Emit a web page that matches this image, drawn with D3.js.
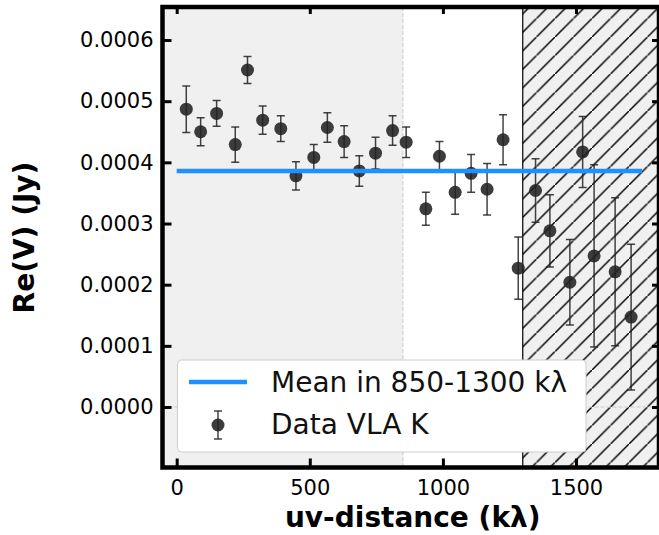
<!DOCTYPE html>
<html>
<head>
<meta charset="utf-8">
<script src="https://cdn.jsdelivr.net/npm/d3@7"></script>
<style>
  body { margin: 0; background: #fff; }
  svg { display: block; font-family: "DejaVu Sans", sans-serif; }
</style>
</head>
<body>
<div id="chart"></div>
<script>
// binned visibilities
const UV_DIST = [36, 90, 150, 220, 266, 323, 391, 448, 515, 566, 629, 686, 747, 811,
                 862, 936, 987, 1046, 1106, 1166, 1226, 1283, 1348, 1402, 1477, 1525, 1568, 1647, 1707];
const RE_V = [0.000487, 0.000450, 0.000480, 0.000429, 0.000551, 0.000469, 0.000455, 0.000378,
              0.000408, 0.000457, 0.000434, 0.000386, 0.000415, 0.000452, 0.000433, 0.000324,
              0.000410, 0.000351, 0.000382, 0.000356, 0.000437, 0.000227, 0.000354, 0.000288,
              0.000204, 0.000417, 0.000247, 0.000221, 0.000147];
const RE_ERR = [0.000038, 0.000023, 0.000021, 0.000029, 0.000022, 0.000023, 0.000021, 0.000023,
                0.000021, 0.000024, 0.000026, 0.000025, 0.000026, 0.000024, 0.000025, 0.000027,
                0.000024, 0.000036, 0.000031, 0.000042, 0.000041, 0.000051, 0.000052, 0.000059,
                0.000070, 0.000058, 0.000149, 0.000121, 0.000119];

const MEAN_VALUE = 0.000386;
const MEAN_RANGE = [0, 1748];
const INNER_CUT = 850;
const OUTER_CUT = 1300;

const X_TICKS = [0, 500, 1000, 1500];
const Y_TICKS = [0, 0.0001, 0.0002, 0.0003, 0.0004, 0.0005, 0.0006];

const LEGEND_LABELS = ["Mean in 850-1300 k\u03bb", "Data VLA K"];

const FRAME_WIDTH = 659;
const FRAME_HEIGHT = 535;
const PLOT = {left: 162.5, right: 659, top: 7, bottom: 467.5};
const HATCH = 18.5;

const X_SCALE = d3.scaleLinear().domain([-53.3, 1811.8]).range([PLOT.left, PLOT.right]);
const Y_SCALE = d3.scaleLinear().domain([-0.0000989, 0.000654]).range([PLOT.bottom, PLOT.top]);

const data = UV_DIST.map((d, i) => ({x: d, y: RE_V[i], e: RE_ERR[i]}));

const FRAME = d3.select("#chart")
  .append("svg")
    .attr("width", FRAME_WIDTH)
    .attr("height", FRAME_HEIGHT);

// hatch pattern for the excluded region
const defs = FRAME.append("defs");
const pat = defs.append("pattern")
    .attr("id", "hatch")
    .attr("patternUnits", "userSpaceOnUse")
    .attr("width", HATCH)
    .attr("height", HATCH);
pat.append("rect").attr("width", HATCH).attr("height", HATCH).attr("fill", "#f0f0f0");
pat.append("path")
    .attr("d", "M-2," + (HATCH + 2) + " L" + (HATCH + 2) + ",-2")
    .attr("stroke", "#000")
    .attr("stroke-width", 1.5);

defs.append("clipPath").attr("id", "plot-clip")
  .append("rect")
    .attr("x", PLOT.left).attr("y", PLOT.top)
    .attr("width", PLOT.right - PLOT.left).attr("height", PLOT.bottom - PLOT.top);

const plot = FRAME.append("g").attr("clip-path", "url(#plot-clip)");

// background regions
plot.append("rect")
    .attr("x", PLOT.left).attr("y", PLOT.top)
    .attr("width", X_SCALE(INNER_CUT) - PLOT.left)
    .attr("height", PLOT.bottom - PLOT.top)
    .attr("fill", "#f0f0f0");

plot.append("rect")
    .attr("x", X_SCALE(OUTER_CUT)).attr("y", PLOT.top - 5)
    .attr("width", PLOT.right - X_SCALE(OUTER_CUT) + 10)
    .attr("height", PLOT.bottom - PLOT.top + 10)
    .attr("fill", "url(#hatch)")
    .attr("stroke", "#000")
    .attr("stroke-width", 1.2);

// reference dashed lines
plot.append("line")
    .attr("x1", X_SCALE(INNER_CUT)).attr("x2", X_SCALE(INNER_CUT))
    .attr("y1", PLOT.top).attr("y2", PLOT.bottom)
    .attr("stroke", "#c8c8c8").attr("stroke-width", 1)
    .attr("stroke-dasharray", "4,2");

plot.append("line")
    .attr("x1", PLOT.left).attr("x2", PLOT.right)
    .attr("y1", Y_SCALE(0)).attr("y2", Y_SCALE(0))
    .attr("stroke", "#c8c8c8").attr("stroke-width", 1)
    .attr("stroke-dasharray", "4,2");

// error bars
const bars = plot.selectAll(".errbar")
  .data(data)
  .enter()
  .append("g")
    .attr("class", "errbar")
    .attr("stroke", "#222")
    .attr("stroke-opacity", 0.85)
    .attr("stroke-width", 1.5);

bars.append("line")
    .attr("x1", d => X_SCALE(d.x)).attr("x2", d => X_SCALE(d.x))
    .attr("y1", d => Y_SCALE(d.y - d.e)).attr("y2", d => Y_SCALE(d.y + d.e));
bars.append("line")
    .attr("x1", d => X_SCALE(d.x) - 4).attr("x2", d => X_SCALE(d.x) + 4)
    .attr("y1", d => Y_SCALE(d.y + d.e)).attr("y2", d => Y_SCALE(d.y + d.e));
bars.append("line")
    .attr("x1", d => X_SCALE(d.x) - 4).attr("x2", d => X_SCALE(d.x) + 4)
    .attr("y1", d => Y_SCALE(d.y - d.e)).attr("y2", d => Y_SCALE(d.y - d.e));

plot.selectAll(".point")
  .data(data)
  .enter()
  .append("circle")
    .attr("class", "point")
    .attr("cx", d => X_SCALE(d.x))
    .attr("cy", d => Y_SCALE(d.y))
    .attr("r", 6.5)
    .attr("fill", "#222")
    .attr("fill-opacity", 0.88);

// mean line
plot.append("line")
    .attr("x1", X_SCALE(MEAN_RANGE[0])).attr("x2", X_SCALE(MEAN_RANGE[1]))
    .attr("y1", Y_SCALE(MEAN_VALUE)).attr("y2", Y_SCALE(MEAN_VALUE))
    .attr("stroke", "#1e90ff")
    .attr("stroke-width", 4.5);

// legend
const legend = FRAME.append("g");
legend.append("rect")
    .attr("x", 177.5).attr("y", 360)
    .attr("width", 408.5).attr("height", 92)
    .attr("rx", 4)
    .attr("fill", "#fff")
    .attr("stroke", "#cccccc")
    .attr("stroke-width", 1);

legend.append("line")
    .attr("x1", 189).attr("x2", 247)
    .attr("y1", 382).attr("y2", 382)
    .attr("stroke", "#1e90ff").attr("stroke-width", 4.5);

const lgBar = legend.append("g")
    .attr("stroke", "#222").attr("stroke-opacity", 0.85).attr("stroke-width", 1.5);
lgBar.append("line").attr("x1", 218).attr("x2", 218).attr("y1", 411).attr("y2", 439);
lgBar.append("line").attr("x1", 214).attr("x2", 222).attr("y1", 411).attr("y2", 411);
lgBar.append("line").attr("x1", 214).attr("x2", 222).attr("y1", 439).attr("y2", 439);
legend.append("circle")
    .attr("cx", 218).attr("cy", 425).attr("r", 6.5)
    .attr("fill", "#222").attr("fill-opacity", 0.88);

legend.selectAll(".lg-text")
  .data(LEGEND_LABELS)
  .enter()
  .append("text")
    .attr("class", "lg-text")
    .attr("x", 271)
    .attr("y", (d, i) => 392 + i * 42)
    .attr("font-size", "28px")
    .attr("fill", "#111")
    .text(d => d);

// axes: inward ticks on all four sides, labels on left and bottom
function styleAxis(g) {
  g.select(".domain").remove();
  g.selectAll(".tick line").attr("stroke", "#000").attr("stroke-width", 3);
  g.selectAll(".tick text").attr("font-size", "21px").attr("fill", "#000")
    .attr("font-family", "DejaVu Sans");
}

FRAME.append("g")
    .attr("transform", "translate(0," + PLOT.bottom + ")")
    .call(d3.axisBottom(X_SCALE).tickValues(X_TICKS).tickSizeInner(-9).tickSizeOuter(0)
      .tickPadding(13).tickFormat(d3.format("d")))
    .call(styleAxis);

FRAME.append("g")
    .attr("transform", "translate(0," + PLOT.top + ")")
    .call(d3.axisTop(X_SCALE).tickValues(X_TICKS).tickSizeInner(-7).tickSizeOuter(0).tickFormat(""))
    .call(styleAxis);

FRAME.append("g")
    .attr("transform", "translate(" + PLOT.left + ",0)")
    .call(d3.axisLeft(Y_SCALE).tickValues(Y_TICKS).tickSizeInner(-9).tickSizeOuter(0)
      .tickPadding(9).tickFormat(d3.format(".4f")))
    .call(styleAxis);

FRAME.append("g")
    .attr("transform", "translate(" + PLOT.right + ",0)")
    .call(d3.axisRight(Y_SCALE).tickValues(Y_TICKS).tickSizeInner(-7).tickSizeOuter(0).tickFormat(""))
    .call(styleAxis);

// spines
FRAME.append("rect")
    .attr("x", PLOT.left).attr("y", PLOT.top)
    .attr("width", PLOT.right - PLOT.left).attr("height", PLOT.bottom - PLOT.top)
    .attr("fill", "none")
    .attr("stroke", "#000")
    .attr("stroke-width", 4.5);

// axis titles
FRAME.append("text")
    .attr("x", (PLOT.left + PLOT.right) / 2 + 2)
    .attr("y", 527)
    .attr("text-anchor", "middle")
    .attr("font-size", "28px")
    .attr("font-weight", "bold")
    .text("uv-distance (k\u03bb)");

FRAME.append("text")
    .attr("transform", "translate(33.5,237.5) rotate(-90)")
    .attr("text-anchor", "middle")
    .attr("font-size", "28px")
    .attr("font-weight", "bold")
    .text("Re(V) (Jy)");
</script>
</body>
</html>
